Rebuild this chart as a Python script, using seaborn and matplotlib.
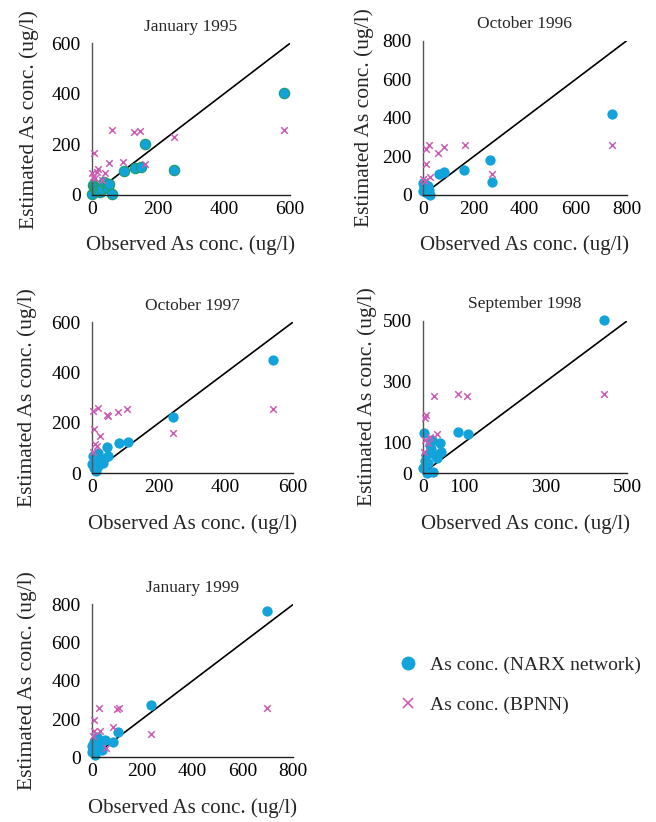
import pandas as pd
import matplotlib
matplotlib.use("Agg")
import matplotlib.pyplot as plt
from matplotlib.lines import Line2D
import seaborn as sns

# --- values (ug/l) ---
titles = ["January 1995", "October 1996", "October 1997", "September 1998", "January 1999"]
axis_max = [600, 800, 600, 500, 800]
tick_steps = [[0, 200, 400, 600], [0, 200, 400, 600, 800], [0, 200, 400, 600],
              [0, 100, 300, 500], [0, 200, 400, 600, 800]]

narx_obs_1995 = [0, 3, 6, 10, 14, 20, 25, 30, 38, 45, 50, 53, 61, 98, 130, 150, 161, 249, 582]
narx_est_1995 = [2, 38, 33, 28, 20, 15, 13, 22, 53, 35, 26, 42, 4, 95, 105, 110, 203, 99, 405]
bpnn_obs_1995 = [2, 5, 8, 10, 15, 18, 30, 40, 52, 60, 96, 128, 146, 161, 249, 582]
bpnn_est_1995 = [86, 70, 167, 66, 92, 101, 59, 88, 125, 256, 129, 250, 254, 122, 231, 257]

narx_obs_1996 = [0, 2, 5, 8, 12, 15, 20, 25, 29, 64, 85, 163, 262, 270, 743]
narx_est_1996 = [20, 60, 40, 30, 50, 10, 45, 25, 2, 109, 121, 130, 181, 69, 420]
bpnn_obs_1996 = [3, 8, 12, 12, 25, 29, 59, 85, 164, 273, 743]
bpnn_est_1996 = [85, 75, 238, 161, 259, 92, 219, 251, 259, 110, 259]

narx_obs_1997 = [2, 5, 8, 10, 12, 15, 18, 20, 25, 35, 47, 50, 80, 107, 244, 542]
narx_est_1997 = [35, 70, 20, 55, 8, 45, 80, 30, 60, 40, 103, 69, 119, 126, 223, 450]
bpnn_obs_1997 = [3, 5, 8, 10, 17, 20, 25, 47, 48, 77, 106, 244, 542]
bpnn_est_1997 = [248, 85, 176, 115, 110, 258, 150, 232, 226, 245, 254, 161, 255]

narx_obs_1998 = [0, 3, 5, 8, 10, 14, 18, 20, 22, 26, 30, 35, 42, 45, 87, 110, 443]
narx_est_1998 = [16, 131, 40, 60, 2, 33, 93, 80, 110, 5, 60, 50, 98, 70, 134, 128, 502]
bpnn_obs_1998 = [4, 5, 6, 8, 12, 18, 28, 34, 87, 109, 443]
bpnn_est_1998 = [70, 180, 109, 191, 100, 120, 254, 129, 259, 254, 259]

narx_obs_1999 = [0, 3, 6, 10, 13, 15, 20, 25, 30, 40, 53, 86, 106, 235, 694]
narx_est_1999 = [60, 30, 64, 80, 12, 45, 108, 70, 55, 40, 91, 82, 134, 275, 767]
bpnn_obs_1999 = [4, 10, 10, 30, 33, 57, 86, 99, 110, 235, 694]
bpnn_est_1999 = [110, 195, 135, 256, 137, 50, 160, 252, 256, 122, 260]

narx_sets = [(narx_obs_1995, narx_est_1995), (narx_obs_1996, narx_est_1996),
             (narx_obs_1997, narx_est_1997), (narx_obs_1998, narx_est_1998),
             (narx_obs_1999, narx_est_1999)]
bpnn_sets = [(bpnn_obs_1995, bpnn_est_1995), (bpnn_obs_1996, bpnn_est_1996),
             (bpnn_obs_1997, bpnn_est_1997), (bpnn_obs_1998, bpnn_est_1998),
             (bpnn_obs_1999, bpnn_est_1999)]

BLUE = "#12a3da"
PINK = "#cc5cb4"
GREEN = "#1e9e72"

sns.set_theme(style="white")
plt.rcParams["font.family"] = ["Liberation Serif", "DejaVu Serif"]

fig = plt.figure(figsize=(6.56, 8.22), dpi=100)

# axes rectangles [left, bottom, width, height] in figure fraction
rects = [
    [0.1398, 0.7628, 0.3023, 0.1845],
    [0.6444, 0.7628, 0.3110, 0.1877],
    [0.1398, 0.4242, 0.3064, 0.1837],
    [0.6444, 0.4242, 0.3119, 0.1856],
    [0.1398, 0.0787, 0.3073, 0.1861],
]
ylab_x = [-0.266, -0.24, -0.271, -0.224, -0.270]

for i in range(5):
    ax = fig.add_axes(rects[i])
    m = axis_max[i]
    ax.plot([0, m], [0, m], color="black", lw=1.2, zorder=1)

    df_n = pd.DataFrame({"obs": narx_sets[i][0], "est": narx_sets[i][1]})
    df_b = pd.DataFrame({"obs": bpnn_sets[i][0], "est": bpnn_sets[i][1]})
    edge = GREEN if i == 0 else BLUE
    sns.scatterplot(data=df_n, x="obs", y="est", ax=ax, marker="o", s=55,
                    color=BLUE, edgecolor=edge, linewidth=0.9 if i == 0 else 0,
                    clip_on=False, zorder=2)
    sns.scatterplot(data=df_b, x="obs", y="est", ax=ax, marker="x", s=22,
                    color=PINK, linewidth=1.1, clip_on=False, zorder=3)

    ax.set_xlim(0, m)
    ax.set_ylim(0, m)
    ax.set_xticks(tick_steps[i])
    ax.set_yticks(tick_steps[i])
    ax.tick_params(axis="both", direction="in", length=3, width=0.8,
                   colors="#555555", labelcolor="black", labelsize=14)
    ax.tick_params(axis="x", pad=4)
    ax.tick_params(axis="y", pad=8)
    sns.despine(ax=ax)
    ax.spines["left"].set_color("#555555")
    ax.spines["bottom"].set_color("#222222")
    ax.spines["left"].set_linewidth(1.0)
    ax.spines["bottom"].set_linewidth(1.0)

    ax.set_title(titles[i], fontsize=12.5, pad=9)
    ax.set_xlabel("Observed As conc. (ug/l)", fontsize=15, labelpad=13)
    ax.set_ylabel("Estimated As conc. (ug/l)", fontsize=15.5)
    ax.yaxis.set_label_coords(ylab_x[i], 0.5)

handles = [
    Line2D([], [], marker="o", linestyle="none", color=BLUE, markersize=10,
           markeredgewidth=0, label="As conc. (NARX network)"),
    Line2D([], [], marker="x", linestyle="none", color=PINK, markersize=6.5,
           markeredgewidth=1.2, label="As conc. (BPNN)"),
]
fig.legend(handles=handles, loc="center left", bbox_to_anchor=(0.58, 0.167),
           frameon=False, fontsize=14, handlelength=1.0, handletextpad=0.65,
           labelspacing=1.15)

fig.savefig("out.png", dpi=100)
